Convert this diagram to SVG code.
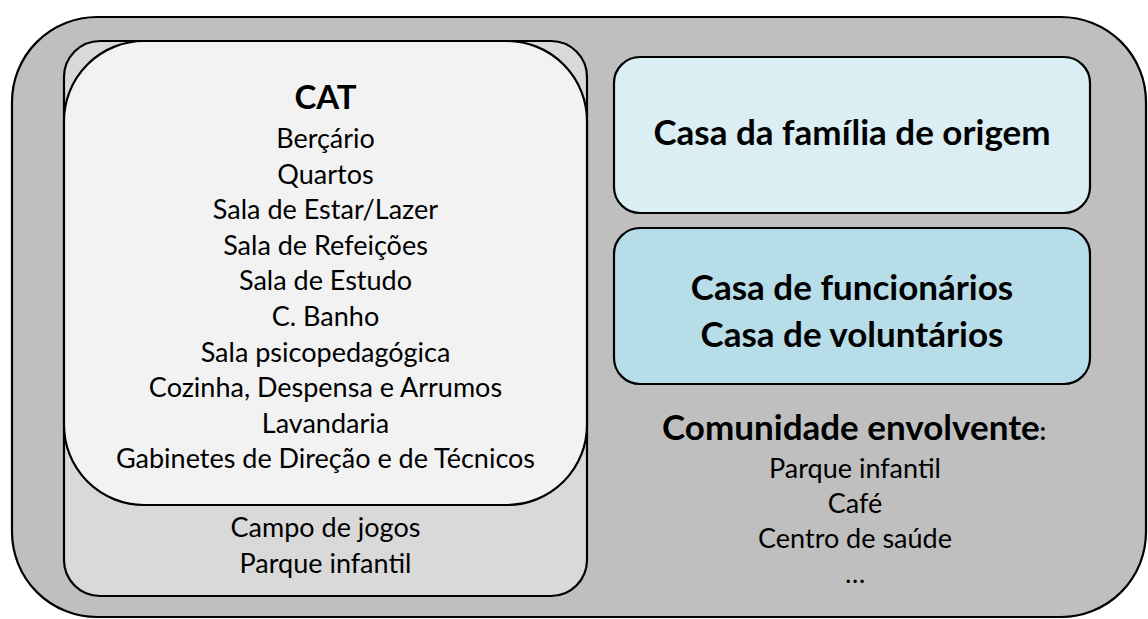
<svg xmlns="http://www.w3.org/2000/svg" width="1148" height="619" viewBox="0 0 1148 619">
  <style>
    .box { stroke: #000; stroke-width: 2.2; }
    .t { font-family: Lato, "Liberation Sans", sans-serif; fill: #000; text-anchor: middle; }
    .r { font-size: 27px; }
    .b { font-weight: bold; }
    .h { font-size: 35px; }
  </style>
  <rect width="1148" height="619" fill="#fff"/>
  <g id="outer">
    <rect class="box" x="12" y="17" width="1134" height="600" rx="85" ry="85" fill="#bfbfbf" stroke-width="2.6"/>
  </g>
  <g id="exterior-cat">
    <rect class="box" x="64" y="41" width="523" height="555" rx="36" ry="36" fill="#d9d9d9"/>
    <text class="t r" x="325.5" y="537">Campo de jogos</text>
    <text class="t r" x="325.5" y="573">Parque infantil</text>
  </g>
  <g id="cat">
    <rect class="box" x="64" y="41" width="523" height="464" rx="80" ry="80" fill="#f2f2f2"/>
    <text class="t b" x="325.5" y="109" font-size="33">CAT</text>
    <text class="t r" x="325.5" y="148">Berçário</text>
    <text class="t r" x="325.5" y="183.6">Quartos</text>
    <text class="t r" x="325.5" y="219.2">Sala de Estar/Lazer</text>
    <text class="t r" x="325.5" y="254.8">Sala de Refeições</text>
    <text class="t r" x="325.5" y="290.4">Sala de Estudo</text>
    <text class="t r" x="325.5" y="326">C. Banho</text>
    <text class="t r" x="325.5" y="361.6">Sala psicopedagógica</text>
    <text class="t r" x="325.5" y="397.2">Cozinha, Despensa e Arrumos</text>
    <text class="t r" x="325.5" y="432.8">Lavandaria</text>
    <text class="t r" x="325.5" y="468.4">Gabinetes de Direção e de Técnicos</text>
  </g>
  <g id="casa-familia">
    <rect class="box" x="614" y="57" width="476" height="156" rx="26" ry="26" fill="#dbeef4"/>
    <text class="t b h" x="852" y="145">Casa da família de origem</text>
  </g>
  <g id="casa-funcionarios">
    <rect class="box" x="614" y="228" width="476" height="156" rx="26" ry="26" fill="#b7dde8"/>
    <text class="t b h" x="852" y="300">Casa de funcionários</text>
    <text class="t b h" x="852" y="347">Casa de voluntários</text>
  </g>
  <g id="comunidade">
    <text class="t b h" x="854" y="440">Comunidade envolvente<tspan font-size="24">:</tspan></text>
    <text class="t r" x="855" y="478">Parque infantil</text>
    <text class="t r" x="855" y="513">Café</text>
    <text class="t r" x="855" y="548">Centro de saúde</text>
    <text class="t r" x="855" y="583">…</text>
  </g>
  <g id="connectors"></g>
</svg>
